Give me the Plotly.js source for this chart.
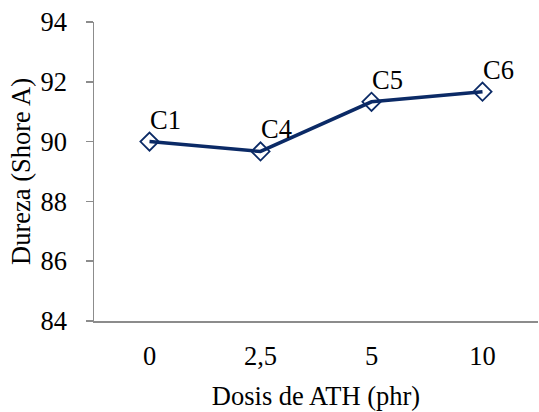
<!DOCTYPE html>
<html>
<head>
<meta charset="utf-8">
<script src="https://cdn.plot.ly/plotly-3.0.1.min.js"></script>
<style>html,body{margin:0;padding:0;background:#fff;}#chart{width:539px;height:412px;}</style>
</head>
<body>
<div id="chart"></div>
<script>
const categories = ["0", "2,5", "5", "10"];
const dureza = [90.0, 89.67, 91.33, 91.67];
const labels = ["C1", "C4", "C5", "C6"];
const yTicks = [84, 86, 88, 90, 92, 94];

const FONT = "Liberation Serif";
const FS = 26.5;
const NAVY = "#0b2a66";
const GRAY = "#8c8c8c";
const PAD = "\u00a0\u00a0";

const trace = {
  x: categories,
  y: dureza,
  type: "scatter",
  mode: "lines+markers",
  line: {color: NAVY, width: 3.5},
  marker: {symbol: "diamond-open", size: 14, color: NAVY, line: {color: NAVY, width: 1.8}},
  hoverinfo: "skip"
};

const annotations = labels.map((t, i) => ({
  x: i, y: dureza[i], xref: "x", yref: "y", text: t, showarrow: false,
  xanchor: "left", yanchor: "bottom", xshift: -2, yshift: 5,
  font: {family: FONT, size: FS, color: "#000"}
}));

const layout = {
  width: 539, height: 412,
  margin: {l: 94, r: 1, t: 22, b: 91},
  paper_bgcolor: "#fff", plot_bgcolor: "#fff",
  showlegend: false,
  font: {family: FONT, size: FS, color: "#000"},
  xaxis: {
    type: "category", range: [-0.5, 3.5], autorange: false,
    showgrid: false, zeroline: false,
    showline: true, linecolor: GRAY, linewidth: 1.5,
    ticks: "", ticklabelstandoff: 11,
    tickfont: {family: FONT, size: FS, color: "#000"},
    title: {text: "Dosis de ATH (phr)", font: {family: FONT, size: FS, color: "#000"}, standoff: 16}
  },
  yaxis: {
    range: [84, 94], autorange: false, tickmode: "array", tickvals: yTicks,
    ticktext: yTicks.map(v => String(v) + PAD),
    showgrid: false, zeroline: false,
    showline: true, linecolor: GRAY, linewidth: 1.5,
    ticks: "outside", ticklen: 7, tickcolor: GRAY, tickwidth: 1.5,
    tickfont: {family: FONT, size: FS, color: "#000"},
    title: {text: "Dureza (Shore A)", font: {family: FONT, size: FS, color: "#000"}, standoff: 2}
  },
  annotations: annotations
};

Plotly.newPlot("chart", [trace], layout, {displayModeBar: false, staticPlot: true});
</script>
</body>
</html>
